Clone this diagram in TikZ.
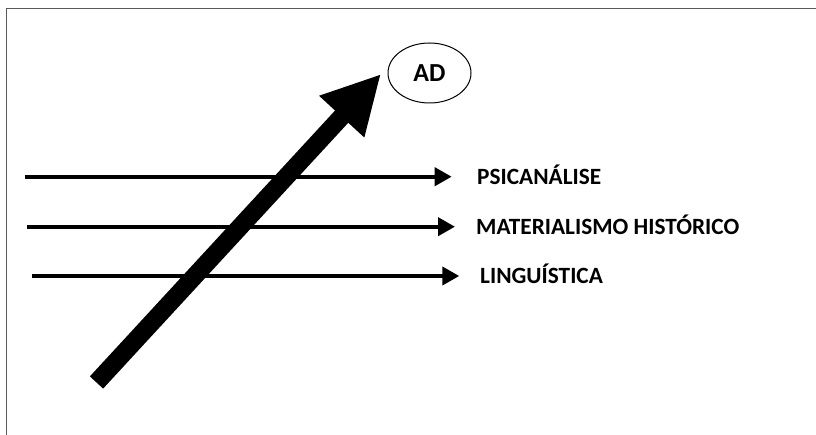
\documentclass[tikz,border=0pt]{standalone}
\usepackage{fontspec}
\setmainfont{Carlito}
\usetikzlibrary{arrows.meta,shapes.geometric}
\begin{document}
\begin{tikzpicture}[x=1pt,y=-1pt,
  frameline/.style={draw=black!65, line width=1.3pt},
  flow/.style={line width=4pt, -{Triangle[length=17pt,width=18pt]}},
  bigflow/.style={line width=18pt, -{Triangle[length=58pt,width=57pt]}},
  label/.style={font=\bfseries\fontsize{23.3}{26}\selectfont, inner sep=0pt, anchor=base west},
  bubble/.style={draw, ellipse, line width=1pt, minimum width=83pt, minimum height=60pt,
    inner sep=0pt, font=\bfseries\fontsize{26}{30}\selectfont}
]
\useasboundingbox (0,0) rectangle (816,435);
\fill[white] (0,0) rectangle (816,435);
% frame (top and left edges)
\draw[frameline] (6.5,436) -- (6.5,8.5) -- (817,8.5);

% circled target
\node[bubble] (ad) at (429.5,73) {AD};

% labels of the three currents
\node[label] (psi) at (477,185) {PSICANÁLISE};
\node[label] (mat) at (476,235) {MATERIALISMO HISTÓRICO};
\node[label] (lin) at (480,284) {LINGUÍSTICA};

% horizontal currents
\coordinate (s1) at (24.7,176.7);
\coordinate (e1) at (451.7,176.7);
\coordinate (s2) at (27.3,226.7);
\coordinate (e2) at (455,226.7);
\coordinate (s3) at (32,276);
\coordinate (e3) at (459.3,276);
\draw[flow] (s1) -- (e1);
\draw[flow] (s2) -- (e2);
\draw[flow] (s3) -- (e3);

% main arrow towards AD
\coordinate (tail) at (96.5,382.5);
\coordinate (tip) at (381,74);
\draw[bigflow] (tail) -- (tip);
\end{tikzpicture}
\end{document}
